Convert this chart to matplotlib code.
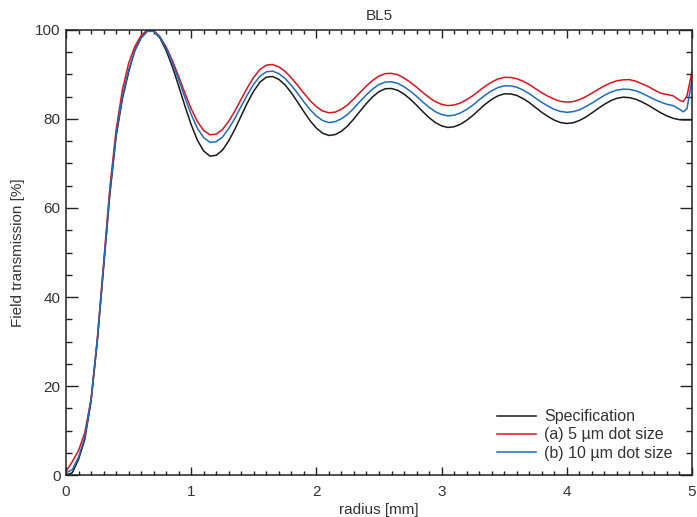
# BL5 field transmission vs radius, three curves
import matplotlib
matplotlib.use('Agg')
from matplotlib import pyplot as plt
from matplotlib.ticker import MultipleLocator

plt.rcParams['font.family'] = ['Liberation Sans', 'DejaVu Sans']

radius = [0.00, 0.05, 0.10, 0.15, 0.20, 0.25, 0.30, 0.35, 0.40, 0.45,
          0.50, 0.55, 0.60, 0.65, 0.70, 0.75, 0.80, 0.85, 0.90, 0.95,
          1.00, 1.05, 1.10, 1.15, 1.20, 1.25, 1.30, 1.35, 1.40, 1.45,
          1.50, 1.55, 1.60, 1.65, 1.70, 1.75, 1.80, 1.85, 1.90, 1.95,
          2.00, 2.05, 2.10, 2.15, 2.20, 2.25, 2.30, 2.35, 2.40, 2.45,
          2.50, 2.55, 2.60, 2.65, 2.70, 2.75, 2.80, 2.85, 2.90, 2.95,
          3.00, 3.05, 3.10, 3.15, 3.20, 3.25, 3.30, 3.35, 3.40, 3.45,
          3.50, 3.55, 3.60, 3.65, 3.70, 3.75, 3.80, 3.85, 3.90, 3.95,
          4.00, 4.05, 4.10, 4.15, 4.20, 4.25, 4.30, 4.35, 4.40, 4.45,
          4.50, 4.55, 4.60, 4.65, 4.70, 4.75, 4.80, 4.85, 4.90, 4.93,
          4.96, 5.00]

spec = [0.0, 0.5, 3.5, 8.0, 16.5, 30.0, 46.5, 63.0, 76.0, 84.5,
        90.5, 95.5, 98.3, 99.8, 99.7, 98.2, 95.4, 91.7, 87.4, 82.9,
        78.7, 75.2, 72.8, 71.65, 71.85, 73.0, 75.1, 77.75, 80.75, 83.7,
        86.3, 88.3, 89.4, 89.55, 88.9, 87.65, 85.9, 83.8, 81.65, 79.6,
        77.95, 76.8, 76.3, 76.5, 77.25, 78.45, 80.05, 81.8, 83.5, 85.0,
        86.15, 86.8, 86.85, 86.45, 85.6, 84.45, 83.1, 81.65, 80.3, 79.2,
        78.45, 78.1, 78.25, 78.8, 79.7, 80.8, 82.1, 83.35, 84.4, 85.2,
        85.65, 85.65, 85.3, 84.6, 83.7, 82.6, 81.5, 80.55, 79.75, 79.2,
        79.0, 79.15, 79.65, 80.4, 81.35, 82.35, 83.3, 84.1, 84.65, 84.9,
        84.8, 84.45, 83.85, 83.1, 82.25, 81.4, 80.7, 80.15, 79.85, 79.8,
        79.8, 79.8]

dot5 = [0.8, 3.0, 5.5, 9.5, 17.0, 30.5, 47.5, 64.5, 77.5, 86.5,
        92.5, 96.3, 98.8, 100.0, 99.9, 98.5, 96.2, 93.1, 89.55, 85.8,
        82.3, 79.4, 77.4, 76.45, 76.6, 77.65, 79.5, 81.85, 84.5, 87.1,
        89.4, 91.15, 92.1, 92.25, 91.7, 90.7, 89.25, 87.55, 85.8, 84.1,
        82.75, 81.8, 81.4, 81.55, 82.2, 83.2, 84.55, 86.0, 87.45, 88.7,
        89.65, 90.2, 90.25, 89.95, 89.2, 88.25, 87.15, 85.95, 84.85, 83.9,
        83.3, 83.0, 83.15, 83.6, 84.35, 85.25, 86.35, 87.4, 88.3, 89.0,
        89.35, 89.35, 89.05, 88.5, 87.75, 86.8, 85.9, 85.1, 84.45, 83.95,
        83.8, 83.9, 84.35, 85.0, 85.8, 86.65, 87.45, 88.1, 88.6, 88.8,
        88.85, 88.5, 87.9, 87.3, 86.5, 85.8, 85.5, 85.2, 84.2, 83.9,
        85.2, 90.6]

dot10 = [0.5, 1.2, 4.0, 8.5, 17.0, 30.5, 47.0, 63.5, 76.5, 85.0,
         91.0, 95.3, 98.2, 99.7, 99.7, 98.4, 95.9, 92.6, 88.8, 84.8,
         81.0, 77.9, 75.8, 74.75, 74.9, 75.95, 77.85, 80.2, 82.9, 85.5,
         87.85, 89.65, 90.6, 90.75, 90.2, 89.1, 87.55, 85.75, 83.85, 82.1,
         80.65, 79.65, 79.2, 79.4, 80.05, 81.05, 82.45, 84.0, 85.45, 86.75,
         87.75, 88.3, 88.35, 88.0, 87.25, 86.25, 85.1, 83.8, 82.65, 81.65,
         81.0, 80.7, 80.85, 81.35, 82.15, 83.1, 84.3, 85.4, 86.35, 87.05,
         87.45, 87.45, 87.15, 86.5, 85.7, 84.7, 83.75, 82.9, 82.15, 81.7,
         81.5, 81.65, 82.05, 82.75, 83.55, 84.45, 85.3, 86.0, 86.5, 86.7,
         86.65, 86.35, 85.8, 85.1, 84.4, 83.8, 83.3, 83.0, 82.2, 81.6,
         82.3, 88.8]

labels = ['Specification', '(a) 5 µm dot size', '(b) 10 µm dot size']
colors = ['#1a1a1a', '#e3101c', '#1a6cc0']
text_color = '#333333'

fig = plt.figure(figsize=(6.97, 5.17), dpi=100)
ax = fig.add_axes([0.0947, 0.0812, 0.8981, 0.8608])

for y, lab, c in zip([spec, dot5, dot10], labels, colors):
    ax.plot(radius, y, color=c, lw=1.1, label=lab)

ax.set_xlim(0, 5)
ax.set_ylim(0, 100)
ax.xaxis.set_major_locator(MultipleLocator(1))
ax.xaxis.set_minor_locator(MultipleLocator(0.1))
ax.yaxis.set_major_locator(MultipleLocator(20))
ax.yaxis.set_minor_locator(MultipleLocator(5))

ax.tick_params(which='both', direction='in', top=True, right=True,
               colors='#222222', labelcolor=text_color, labelsize=11, width=1.0)
ax.tick_params(axis='x', which='major', length=5.8, pad=7)
ax.tick_params(axis='x', which='minor', length=3.2)
ax.tick_params(axis='y', which='major', length=8.6, pad=4)
ax.tick_params(axis='y', which='minor', length=4.3)
for s in ax.spines.values():
    s.set_linewidth(1.1)
    s.set_color('#222222')

ax.set_title('BL5', fontsize=11, color=text_color, pad=7)
ax.set_xlabel('radius [mm]', fontsize=11, color=text_color, labelpad=3)
ax.set_ylabel('Field transmission [%]', fontsize=11, color=text_color, labelpad=7)

leg = ax.legend(loc='lower right', bbox_to_anchor=(0.992, 0.0), frameon=False,
                fontsize=11.5, handlelength=2.45, handletextpad=0.5,
                labelspacing=0.2, borderaxespad=0.5)
for t in leg.get_texts():
    t.set_color(text_color)

fig.savefig('out.png', dpi=100)
